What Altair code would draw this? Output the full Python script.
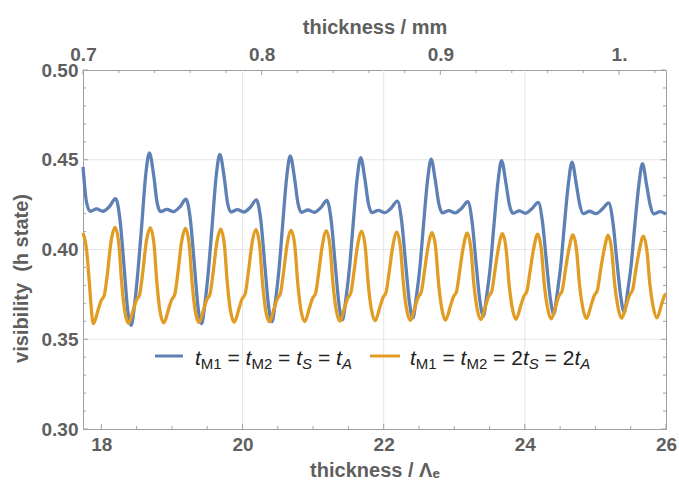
import altair as alt
import pandas as pd

# ---------------- data ----------------
blue_x = [
    17.740, 17.790, 17.842, 17.932, 18.022, 18.112, 18.202, 18.262, 18.322, 18.372, 18.422, 18.472, 18.522, 18.572, 18.632,
    18.680, 18.740, 18.790, 18.840, 18.930, 19.020, 19.110, 19.200, 19.260, 19.320, 19.370, 19.420, 19.470, 19.520, 19.570, 19.630,
    19.678, 19.738, 19.788, 19.838, 19.928, 20.018, 20.108, 20.198, 20.258, 20.318, 20.368, 20.418, 20.468, 20.518, 20.568, 20.628,
    20.676, 20.736, 20.786, 20.836, 20.926, 21.016, 21.106, 21.196, 21.256, 21.316, 21.366, 21.416, 21.466, 21.516, 21.566, 21.626,
    21.674, 21.734, 21.784, 21.834, 21.924, 22.014, 22.104, 22.194, 22.254, 22.314, 22.364, 22.414, 22.464, 22.514, 22.564, 22.624,
    22.672, 22.732, 22.782, 22.832, 22.922, 23.012, 23.102, 23.192, 23.252, 23.312, 23.362, 23.412, 23.462, 23.512, 23.562, 23.622,
    23.670, 23.730, 23.780, 23.830, 23.920, 24.010, 24.100, 24.190, 24.250, 24.310, 24.360, 24.410, 24.460, 24.510, 24.560, 24.620,
    24.668, 24.728, 24.778, 24.828, 24.918, 25.008, 25.098, 25.188, 25.248, 25.308, 25.358, 25.408, 25.458, 25.508, 25.558, 25.618,
    25.666, 25.726, 25.776, 25.826, 25.916, 26.000,
]
blue_y = [
    0.4460, 0.4263, 0.4213, 0.4226, 0.4213, 0.4238, 0.4283, 0.4173, 0.3905, 0.3667, 0.3577, 0.3697, 0.3895, 0.4135, 0.4428,
    0.4538, 0.4418, 0.4261, 0.4211, 0.4224, 0.4211, 0.4236, 0.4280, 0.4170, 0.3905, 0.3677, 0.3587, 0.3707, 0.3895, 0.4135, 0.4420,
    0.4530, 0.4410, 0.4259, 0.4209, 0.4222, 0.4209, 0.4234, 0.4276, 0.4166, 0.3905, 0.3688, 0.3598, 0.3718, 0.3895, 0.4135, 0.4411,
    0.4521, 0.4401, 0.4257, 0.4207, 0.4220, 0.4207, 0.4232, 0.4273, 0.4163, 0.3905, 0.3698, 0.3608, 0.3728, 0.3900, 0.4135, 0.4402,
    0.4512, 0.4392, 0.4255, 0.4205, 0.4218, 0.4205, 0.4230, 0.4270, 0.4160, 0.3910, 0.3709, 0.3619, 0.3739, 0.3905, 0.4135, 0.4394,
    0.4504, 0.4384, 0.4254, 0.4204, 0.4217, 0.4204, 0.4229, 0.4266, 0.4156, 0.3910, 0.3719, 0.3629, 0.3749, 0.3910, 0.4135, 0.4385,
    0.4495, 0.4375, 0.4252, 0.4202, 0.4215, 0.4202, 0.4227, 0.4263, 0.4153, 0.3915, 0.3730, 0.3640, 0.3760, 0.3915, 0.4135, 0.4377,
    0.4487, 0.4367, 0.4250, 0.4200, 0.4213, 0.4200, 0.4225, 0.4260, 0.4150, 0.3920, 0.3740, 0.3650, 0.3770, 0.3920, 0.4135, 0.4368,
    0.4478, 0.4358, 0.4248, 0.4198, 0.4211, 0.4198,
]
orange_x = [
    17.740, 17.790, 17.830, 17.860,
    17.887, 17.957, 17.997, 18.042, 18.087, 18.137, 18.194, 18.247, 18.287, 18.332,
    18.386, 18.456, 18.496, 18.541, 18.586, 18.636, 18.693, 18.746, 18.786, 18.831,
    18.885, 18.955, 18.995, 19.040, 19.085, 19.135, 19.192, 19.245, 19.285, 19.330,
    19.384, 19.454, 19.494, 19.539, 19.584, 19.634, 19.691, 19.744, 19.784, 19.829,
    19.883, 19.953, 19.993, 20.038, 20.083, 20.133, 20.190, 20.243, 20.283, 20.328,
    20.382, 20.452, 20.492, 20.537, 20.582, 20.632, 20.689, 20.742, 20.782, 20.827,
    20.881, 20.951, 20.991, 21.036, 21.081, 21.131, 21.188, 21.241, 21.281, 21.326,
    21.380, 21.450, 21.490, 21.535, 21.580, 21.630, 21.687, 21.740, 21.780, 21.825,
    21.879, 21.949, 21.989, 22.034, 22.079, 22.129, 22.186, 22.239, 22.279, 22.324,
    22.378, 22.448, 22.488, 22.533, 22.578, 22.628, 22.685, 22.738, 22.778, 22.823,
    22.877, 22.947, 22.987, 23.032, 23.077, 23.127, 23.184, 23.237, 23.277, 23.322,
    23.376, 23.446, 23.486, 23.531, 23.576, 23.626, 23.683, 23.736, 23.776, 23.821,
    23.875, 23.945, 23.985, 24.030, 24.075, 24.125, 24.182, 24.235, 24.275, 24.320,
    24.374, 24.444, 24.484, 24.529, 24.574, 24.624, 24.681, 24.734, 24.774, 24.819,
    24.873, 24.943, 24.983, 25.028, 25.073, 25.123, 25.180, 25.233, 25.273, 25.318,
    25.372, 25.442, 25.482, 25.527, 25.572, 25.622, 25.679, 25.732, 25.772, 25.817,
    25.871, 25.941, 25.981, 26.000,
]
orange_y = [
    0.4092, 0.4000, 0.3815, 0.3660,
    0.3587, 0.3667, 0.3715, 0.3745, 0.3870, 0.4043, 0.4123, 0.4033, 0.3820, 0.3655,
    0.3589, 0.3669, 0.3717, 0.3747, 0.3871, 0.4040, 0.4120, 0.4030, 0.3819, 0.3656,
    0.3591, 0.3671, 0.3719, 0.3749, 0.3872, 0.4037, 0.4117, 0.4027, 0.3818, 0.3658,
    0.3593, 0.3673, 0.3721, 0.3751, 0.3873, 0.4033, 0.4113, 0.4023, 0.3817, 0.3660,
    0.3595, 0.3675, 0.3723, 0.3753, 0.3874, 0.4030, 0.4110, 0.4020, 0.3816, 0.3662,
    0.3597, 0.3677, 0.3725, 0.3755, 0.3875, 0.4027, 0.4107, 0.4017, 0.3815, 0.3664,
    0.3599, 0.3679, 0.3727, 0.3757, 0.3876, 0.4024, 0.4104, 0.4014, 0.3814, 0.3666,
    0.3601, 0.3681, 0.3729, 0.3759, 0.3877, 0.4021, 0.4101, 0.4011, 0.3813, 0.3668,
    0.3603, 0.3683, 0.3731, 0.3761, 0.3878, 0.4017, 0.4097, 0.4007, 0.3812, 0.3670,
    0.3605, 0.3685, 0.3733, 0.3763, 0.3879, 0.4014, 0.4094, 0.4004, 0.3811, 0.3672,
    0.3607, 0.3687, 0.3735, 0.3765, 0.3880, 0.4011, 0.4091, 0.4001, 0.3810, 0.3674,
    0.3609, 0.3689, 0.3737, 0.3767, 0.3881, 0.4008, 0.4088, 0.3998, 0.3809, 0.3676,
    0.3611, 0.3691, 0.3739, 0.3769, 0.3882, 0.4005, 0.4085, 0.3995, 0.3808, 0.3678,
    0.3613, 0.3693, 0.3741, 0.3771, 0.3883, 0.4001, 0.4081, 0.3991, 0.3807, 0.3680,
    0.3615, 0.3695, 0.3743, 0.3773, 0.3884, 0.3998, 0.4078, 0.3988, 0.3806, 0.3682,
    0.3617, 0.3697, 0.3745, 0.3775, 0.3885, 0.3995, 0.4075, 0.3985, 0.3805, 0.3684,
    0.3619, 0.3699, 0.3745, 0.3752,
]

series_names = ["tM1 = tM2 = tS = tA", "tM1 = tM2 = 2tS = 2tA"]
series_colors = ["#5E81B5", "#E19C24"]

x_major = [18, 20, 22, 24, 26]
x_minor = [18.5, 19, 19.5, 20.5, 21, 21.5, 22.5, 23, 23.5, 24.5, 25, 25.5]
x_grid = [20, 22, 24]
y_major = [0.30, 0.35, 0.40, 0.45, 0.50]
y_minor = [0.31, 0.32, 0.33, 0.34, 0.36, 0.37, 0.38, 0.39, 0.41, 0.42, 0.43, 0.44, 0.46, 0.47, 0.48, 0.49]
y_grid = [0.35, 0.40, 0.45]
mm_major = [0.7, 0.8, 0.9, 1.0]
mm_minor = [0.72, 0.74, 0.76, 0.78, 0.82, 0.84, 0.86, 0.88, 0.92, 0.94, 0.96, 0.98, 1.02]

# ---------------- layout / style ----------------
W, H = 583, 359
X_DOMAIN = [17.74, 26.0]
Y_DOMAIN = [0.30, 0.50]
MM_DOMAIN = [0.70, 1.0263]
FRAME = "#a0a0a0"
GRID = "#e6e6e6"
LABEL = "#5f5f5f"
FONT = "Liberation Sans"


def xs():
    return alt.Scale(domain=X_DOMAIN, nice=False, zero=False)


def ys():
    return alt.Scale(domain=Y_DOMAIN, nice=False, zero=False)


def vdf(vals):
    return pd.DataFrame({"v": vals})


lines_df = pd.concat([
    pd.DataFrame({"x": blue_x, "y": blue_y, "s": series_names[0]}),
    pd.DataFrame({"x": orange_x, "y": orange_y, "s": series_names[1]}),
])

axis_common = dict(
    domain=False, ticks=False, grid=False, labelFlush=False, labelOverlap=False,
    labelFont=FONT, labelFontSize=19, labelFontWeight="bold", labelColor=LABEL,
    titleFont=FONT, titleFontSize=20, titleFontWeight="bold", titleColor=LABEL,
)

lines = alt.Chart(lines_df).mark_line(strokeWidth=3.3, interpolate="monotone").encode(
    x=alt.X("x:Q", scale=xs(), axis=alt.Axis(orient="bottom", values=x_major, format="d", labelPadding=6,
                                             title="thickness / Λₑ", titlePadding=6, **axis_common)),
    y=alt.Y("y:Q", scale=ys(), axis=alt.Axis(orient="left", values=y_major, format=".2f", labelPadding=5,
                                             title="visibility\u00a0 (h state)", titlePadding=10,
                                             titleY=208, **axis_common)),
    color=alt.Color("s:N", scale=alt.Scale(domain=series_names, range=series_colors), legend=None),
    detail="s:N",
    order=alt.Order("x:Q"),
)

grid_v = alt.Chart(vdf(x_grid)).mark_rule(color=GRID, strokeWidth=1).encode(
    x=alt.X("v:Q", scale=xs(), axis=None), y=alt.value(0), y2=alt.value(H))
grid_h = alt.Chart(vdf(y_grid)).mark_rule(color=GRID, strokeWidth=1).encode(
    y=alt.Y("v:Q", scale=ys(), axis=None), x=alt.value(0), x2=alt.value(W))


def xticks(vals, ln):
    return alt.Chart(vdf(vals)).mark_rule(color=FRAME, strokeWidth=1).encode(
        x=alt.X("v:Q", scale=xs(), axis=None), y=alt.value(H), y2=alt.value(H - ln))


def yticks(vals, ln):
    l = alt.Chart(vdf(vals)).mark_rule(color=FRAME, strokeWidth=1).encode(
        y=alt.Y("v:Q", scale=ys(), axis=None), x=alt.value(0), x2=alt.value(ln))
    r = alt.Chart(vdf(vals)).mark_rule(color=FRAME, strokeWidth=1).encode(
        y=alt.Y("v:Q", scale=ys(), axis=None), x=alt.value(W), x2=alt.value(W - ln))
    return [l, r]


top_major = alt.Chart(vdf(mm_major)).mark_rule(color=FRAME, strokeWidth=1).encode(
    x=alt.X("v:Q", scale=alt.Scale(domain=MM_DOMAIN, nice=False, zero=False), axis=alt.Axis(
        orient="top", values=mm_major, labelPadding=6,
        labelExpr="datum.value == 1 ? '1.' : format(datum.value, '.1f')",
        title="thickness / mm", titlePadding=8, **axis_common)),
    y=alt.value(0), y2=alt.value(5))
top_minor = alt.Chart(vdf(mm_minor)).mark_rule(color=FRAME, strokeWidth=1).encode(
    x=alt.X("v:Q", scale=alt.Scale(domain=MM_DOMAIN, nice=False, zero=False), axis=None),
    y=alt.value(0), y2=alt.value(3))

# ---------------- custom legend with subscripts ----------------
one = pd.DataFrame({"k": [0]})
BASE_Y = 295
SUB_Y = 299


def txt(s, x, sub=False, italic=False):
    return alt.Chart(one).mark_text(
        text=s, align="left", baseline="alphabetic", font=FONT,
        fontSize=15 if sub else 21, fontStyle="italic" if italic else "normal",
        color="#222222").encode(x=alt.value(x), y=alt.value(SUB_Y if sub else BASE_Y))


def swatch(x0, x1, c):
    return alt.Chart(one).mark_rule(color=c, strokeWidth=3).encode(
        x=alt.value(x0), x2=alt.value(x1), y=alt.value(286))


legend_layers = [
    swatch(72, 100, series_colors[0]),
    txt("t", 112, italic=True), txt("M1", 117.8, sub=True), txt("=", 144.5),
    txt("t", 162.6, italic=True), txt("M2", 168.5, sub=True), txt("=", 195.1),
    txt("t", 213.3, italic=True), txt("S", 219.1, sub=True, italic=True), txt("=", 234.9),
    txt("t", 253.0, italic=True), txt("A", 258.9, sub=True, italic=True),
    swatch(287, 317, series_colors[1]),
    txt("t", 327, italic=True), txt("M1", 332.8, sub=True), txt("=", 359.5),
    txt("t", 377.6, italic=True), txt("M2", 383.5, sub=True), txt("=", 410.1), txt("2", 428.2),
    txt("t", 439.9, italic=True), txt("S", 445.8, sub=True, italic=True), txt("=", 461.6), txt("2", 479.7),
    txt("t", 491.4, italic=True), txt("A", 497.2, sub=True, italic=True),
]

layers = [grid_v, grid_h, xticks(x_major, 5), xticks(x_minor, 3)] + yticks(y_major, 5) + yticks(y_minor, 3) + \
         [top_major, top_minor, lines] + legend_layers

chart = alt.layer(*layers).resolve_scale(x="independent", y="independent").properties(
    width=W, height=H,
    padding={"left": 83, "top": 70, "right": 13, "bottom": 59},
    autosize=alt.AutoSizeParams(type="none"),
    background="white",
).configure_view(stroke=FRAME, strokeWidth=1)

chart.save("out.html", embed_options={"renderer": "svg", "actions": False})
